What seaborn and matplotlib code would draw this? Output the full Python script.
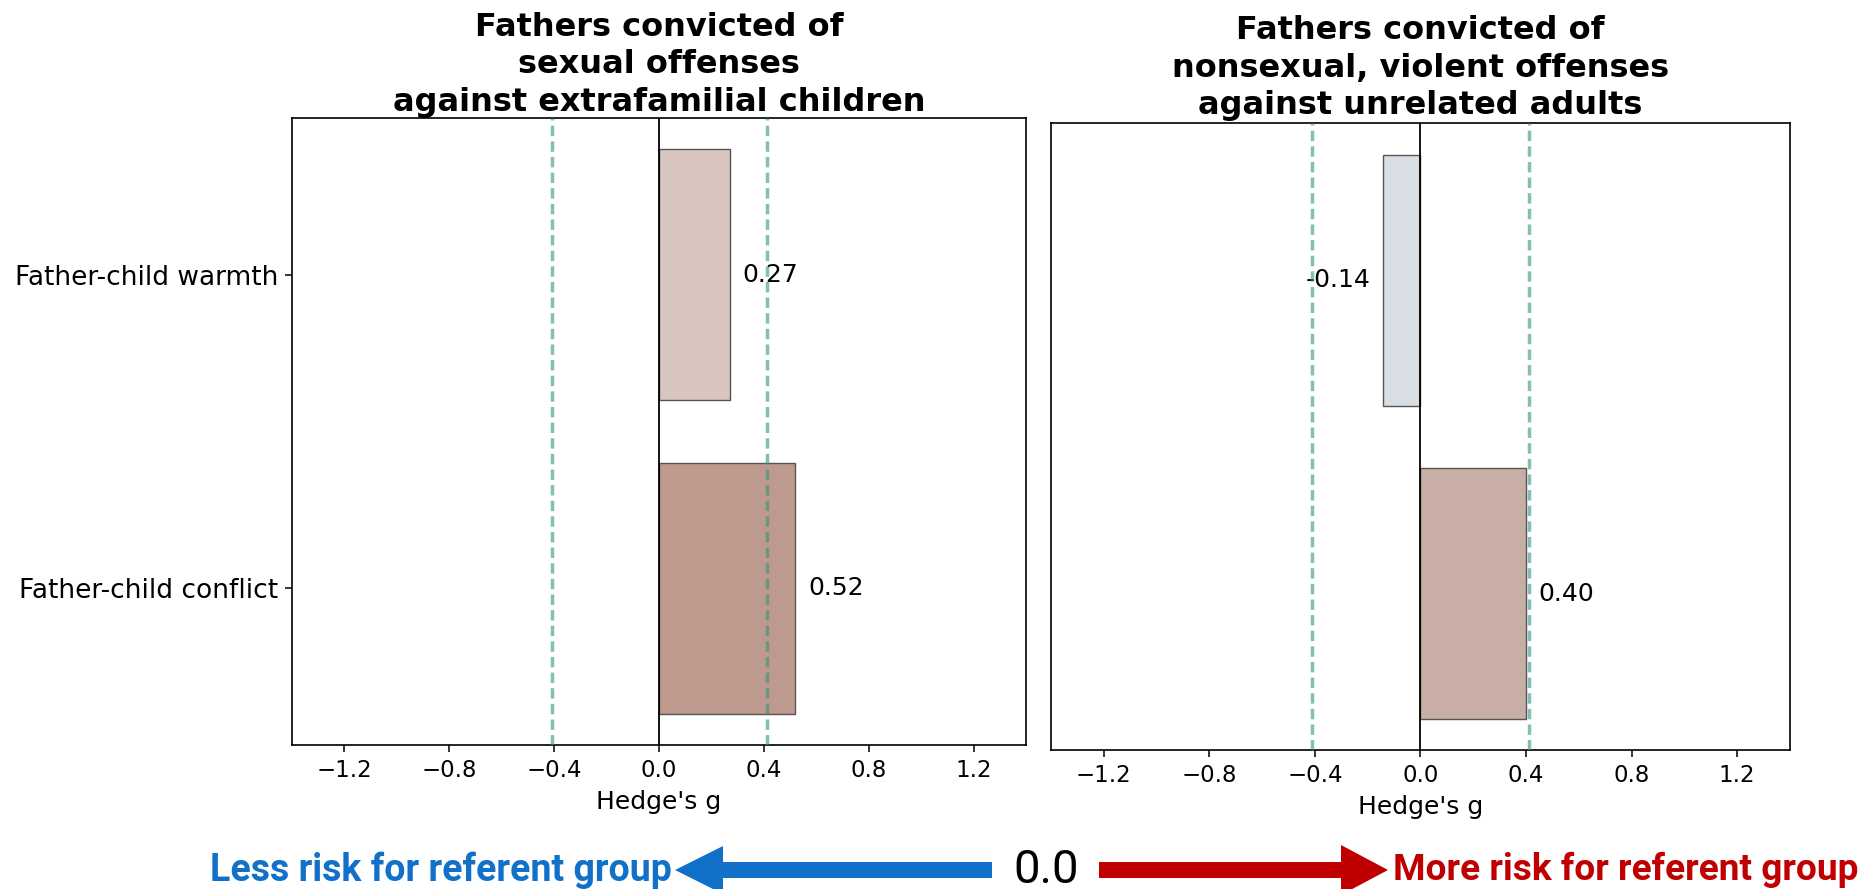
import matplotlib
matplotlib.use("Agg")
import matplotlib.pyplot as plt
from matplotlib.patches import FancyArrow
import seaborn as sns
import pandas as pd

# Effect sizes (Hedge's g) per outcome
outcomes = ["Father-child warmth", "Father-child conflict"]
sexual_offense_g = [0.27, 0.52]
violent_offense_g = [-0.14, 0.40]

panel_titles = [
    "Fathers convicted of\nsexual offenses\nagainst extrafamilial children",
    "Fathers convicted of\nnonsexual, violent offenses\nagainst unrelated adults",
]
panel_colors = [
    ["#d8c5bf", "#be9a8e"],
    ["#d9dee5", "#c9aea7"],
]
threshold = 0.41
xticks = [-1.2, -0.8, -0.4, 0.0, 0.4, 0.8, 1.2]

fig = plt.figure(figsize=(18.65, 8.89), dpi=100)
ax_left = fig.add_axes([0.1566, 0.1620, 0.3936, 0.7053])
ax_right = fig.add_axes([0.5635, 0.1560, 0.3962, 0.7051])

for ax, values, title, colors, show_labels, tpad in zip(
    [ax_left, ax_right],
    [sexual_offense_g, violent_offense_g],
    panel_titles,
    panel_colors,
    [True, False],
    [5, 6.5],
):
    df = pd.DataFrame({"outcome": outcomes, "g": values})
    sns.barplot(
        data=df, x="g", y="outcome", hue="outcome", palette=colors,
        orient="h", width=0.8, saturation=1, edgecolor="#555555",
        linewidth=1.0, legend=False, ax=ax, zorder=2,
    )
    for cont in ax.containers:
        ax.bar_label(cont, fmt="{:.2f}", padding=9, fontsize=18)
    ax.axvline(0, color="black", lw=1.3, zorder=3)
    for t in (-threshold, threshold):
        ax.axvline(t, color="#32967a", alpha=0.6, lw=2.5,
                   linestyle=(0, (3.0, 1.5)), zorder=4)
    ax.set_xlim(-1.4, 1.4)
    ax.set_ylim(1.5, -0.5)
    ax.set_xticks(xticks)
    ax.tick_params(axis="x", labelsize=16.5, length=4.8, width=1.1, pad=5)
    ax.set_xlabel("Hedge's g", fontsize=18, labelpad=6)
    ax.set_ylabel("")
    if show_labels:
        ax.tick_params(axis="y", labelsize=19, length=4.8, width=1.1, pad=5)
    else:
        ax.set_yticks([])
    for s in ax.spines.values():
        s.set_linewidth(1.2)
        s.set_color("black")
    ax.set_title(title, fontsize=23, fontweight="bold", pad=tpad, linespacing=1.28)

# Direction legend along the bottom edge, drawn in pixel coordinates
W, H = 1865, 889
overlay = fig.add_axes([0, 0, 1, 1], zorder=10)
overlay.set_xlim(0, W)
overlay.set_ylim(H, 0)
overlay.axis("off")
overlay.patch.set_alpha(0)

y_mid = 870
blue = "#1170c8"
red = "#c00000"
overlay.add_patch(FancyArrow(992, y_mid, 675 - 992, 0, width=16, head_width=48,
                             head_length=48, length_includes_head=True,
                             color=blue, lw=0))
overlay.add_patch(FancyArrow(1099, y_mid, 1388 - 1099, 0, width=16, head_width=50,
                             head_length=47, length_includes_head=True,
                             color=red, lw=0))
overlay.text(672, y_mid, "Less risk for referent group", color=blue,
             fontfamily="Roboto", fontweight="bold", fontsize=27,
             ha="right", va="center")
overlay.text(1393, y_mid, "More risk for referent group", color=red,
             fontfamily="Roboto", fontweight="bold", fontsize=26.7,
             ha="left", va="center")
overlay.text(1046, y_mid, "0.0", color="black", fontfamily="Roboto",
             fontsize=34, ha="center", va="center")

fig.savefig("out.png", dpi=100)
